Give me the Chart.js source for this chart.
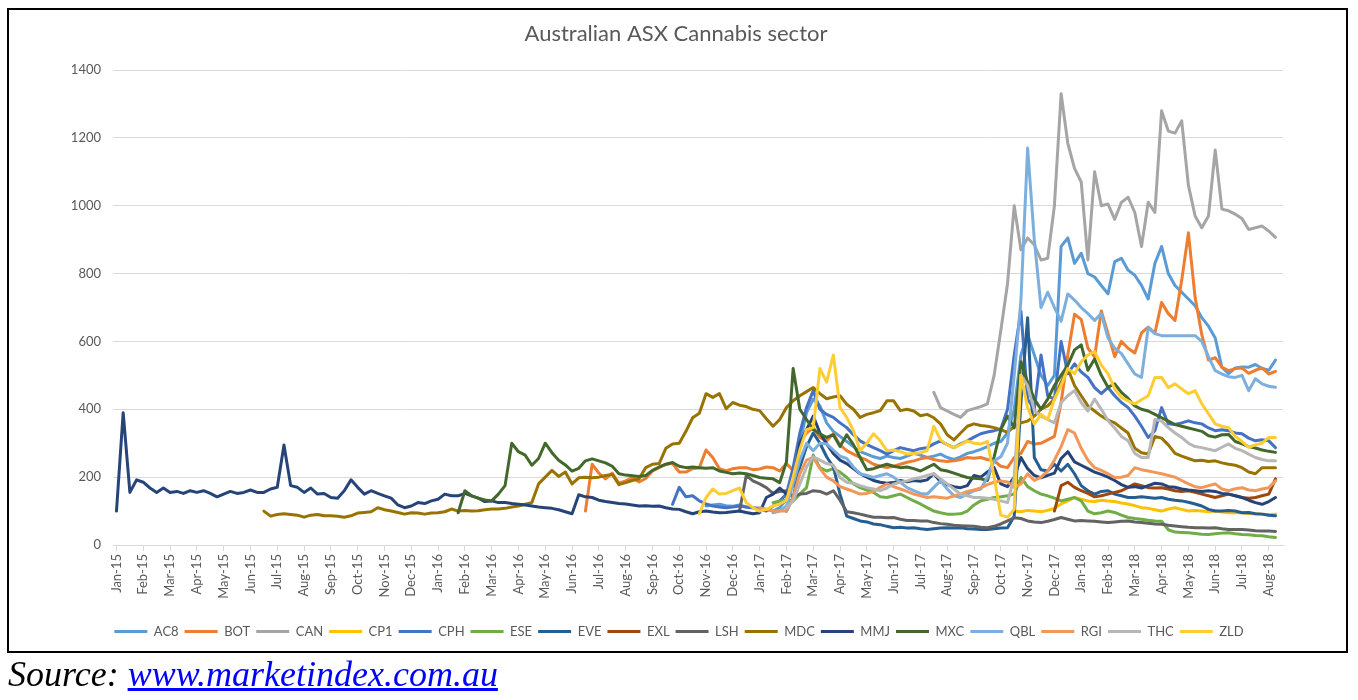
<!DOCTYPE html>
<html><head><meta charset="utf-8">
<script src="https://cdn.jsdelivr.net/npm/chart.js@4"></script>
<style>
html,body{margin:0;padding:0;background:#fff;width:1358px;height:700px;overflow:hidden}
#c{position:absolute;left:0;top:0;width:1358px;height:700px}
#frame{position:absolute;left:7px;top:8px;width:1337px;height:641px;border:2px solid #000;pointer-events:none}
#source{position:absolute;left:8px;top:657px;font-family:"Liberation Serif","Times New Roman",serif;font-style:italic;font-size:36px;line-height:35px;color:#000;white-space:nowrap}
#source a{color:#0000ff;text-decoration:underline}
</style></head><body>
<canvas id="c" width="1358" height="700"></canvas>
<div id="frame"></div>
<div id="source">Source: <a href="#">www.marketindex.com.au</a></div>
<script>
// x-axis tick labels (one per month)
const monthLabels = ['Jan-15','Feb-15','Mar-15','Apr-15','May-15','Jun-15','Jul-15','Aug-15','Sep-15','Oct-15','Nov-15','Dec-15',
  'Jan-16','Feb-16','Mar-16','Apr-16','May-16','Jun-16','Jul-16','Aug-16','Sep-16','Oct-16','Nov-16','Dec-16',
  'Jan-17','Feb-17','Mar-17','Apr-17','May-17','Jun-17','Jul-17','Aug-17','Sep-17','Oct-17','Nov-17','Dec-17',
  'Jan-18','Feb-18','Mar-18','Apr-18','May-18','Jun-18','Jul-18','Aug-18'];
const yTicks = [0,200,400,600,800,1000,1200,1400];
const seriesNames = ['AC8','BOT','CAN','CP1','CPH','ESE','EVE','EXL','LSH','MDC','MMJ','MXC','QBL','RGI','THC','ZLD'];

// Each series: weekly samples (4 per month); each row = one month, starting at the given month index (0 = Jan-15)
const AC8_start = 22;
const AC8 = [
 [115,118,120,116],[114,118,112,110],
 [108,105,100,110],[135,220,300,390],[430,410,360,335],[320,305,290,275],[268,260,255,262],[258,255,262,270],
 [265,258,262,268],[258,252,260,270],[275,282,290,300],[305,330,400,560],[620,560,500,470],[500,880,905,830],
 [860,800,790,765],[740,835,845,810],[795,765,725,830],[880,800,765,745],[725,705,670,645],[610,524,505,522],
 [525,524,532,520],[515,545]];
const BOT_start = 17;
const BOT = [
 [null,null,100,238],[212,195,212,182],[189,199,186,196],[218,228,238,240],[215,215,225,228],[280,258,225,218],[225,228,228,222],
 [224,230,228,218],[240,220,300,330],[346,317,307,328],[295,278,268,258],[250,238,232,228],[232,238,244,248],
 [254,258,252,248],[246,248,252,258],[256,258,252,248],[232,228,258,270],[305,298,300,310],[320,420,560,680],
 [665,580,555,690],[623,555,600,580],[566,625,642,625],[715,682,662,780],[920,730,620,545],[552,524,514,520],
 [522,506,515,522],[504,512]];
const CAN_start = 30;
const CAN = [
 [null,null,450,405],[395,385,376,396],[402,408,416,500],[632,770,1000,870],[905,885,840,845],[1000,1330,1184,1110],
 [1070,840,1100,1000],[1005,960,1010,1025],[980,880,1010,980],[1280,1220,1214,1250],[1060,970,935,970],[1164,990,985,975],
 [962,930,935,940],[925,907]];
const CP1_start = 33;
const CP1 = [
 [null,null,100,98],[102,100,98,102],[108,121,130,140],
 [135,130,128,132],[130,128,124,121],[116,110,108,104],[100,106,110,105],[100,102,100,98],[100,97,95,96],
 [95,93,92,91],[90,91]];
const CPH_start = 20;
const CPH = [
 [null,null,null,120],[170,142,145,130],[121,115,112,110],[112,115,112,110],
 [105,100,115,130],[150,228,330,405],[455,400,385,376],[360,346,325,307],[296,287,278,268],[278,287,282,278],
 [284,287,298,307],[296,287,298,307],[318,328,333,337],[342,400,560,690],[430,400,560,440],[430,600,505,534],
 [510,494,464,446],[464,440,420,405],[380,350,317,337],[405,357,355,360],[366,360,357,345],[337,340,337,330],
 [328,315,307,310],[307,287]];
const ESE_start = 24;
const ESE = [
 [null,null,125,130],[132,130,150,169],[265,228,218,225],[215,199,180,169],[162,155,142,140],[145,150,140,130],
 [121,110,100,95],[91,91,92,100],[118,130,135,140],[142,145,150,199],[172,160,150,145],[138,130,135,140],
 [130,100,92,95],[100,96,88,81],[78,76,73,71],[70,45,38,37],[36,34,32,31],[33,35,36,33],
 [31,30,28,27],[24,22]];
const EVE_start = 25;
const EVE = [
 [100,140,230,290],[330,300,260,230],[150,85,78,71],[68,62,60,55],[51,52,50,51],
 [48,46,48,50],[51,50,51,48],[47,46,46,48],[50,51,85,420],[670,258,222,218],[238,218,238,210],
 [175,160,150,158],[160,150,145,140],[140,142,140,138],[140,135,132,130],[126,121,115,105],[100,100,102,100],
 [95,96,92,91],[88,86]];
const EXL_start = 35;
const EXL = [
 [100,175,185,170],
 [160,152,142,145],[150,155,160,170],[180,175,169,168],[169,165,160,158],[160,155,150,145],[140,145,150,145],
 [140,138,140,145],[150,195]];
const LSH_start = 23;
const LSH = [
 [null,100,205,189],
 [180,169,152,158],[160,142,150,152],[160,158,150,160],[132,98,95,91],[86,82,82,80],[81,76,72,72],
 [71,71,66,63],[61,58,57,56],[55,52,51,55],[62,71,80,78],[71,68,66,70],[75,81,76,71],
 [72,71,70,68],[66,68,70,71],[68,66,64,62],[61,58,56,54],[52,51,51,50],[51,48,46,46],
 [46,44,42,41],[41,40]];
const MDC_start = 5;
const MDC = [
 [null,null,100,85],[90,92,90,88],[82,88,90,86],[86,85,82,86],[94,96,98,110],[104,100,96,91],[95,94,91,94],
 [95,98,106,100],[102,100,101,104],[106,106,108,112],[115,120,125,180],[200,220,202,215],[180,198,200,198],
 [200,205,208,178],[184,190,195,228],[238,240,285,298],[300,335,375,388],[446,435,446,402],[420,412,408,400],
 [396,372,350,370],[405,425,440,452],[464,446,431,436],[440,415,400,376],[385,390,396,425],[425,396,400,395],
 [381,385,375,357],[325,310,330,350],[357,352,350,346],[340,332,350,360],[365,380,400,410],[430,480,520,470],
 [440,410,395,380],[368,360,345,330],[285,272,268,320],[315,295,270,262],[255,248,250,246],[248,242,238,235],
 [228,215,210,228],[228,228]];
const MMJ_start = 0;
const MMJ = [
 [100,390,155,192],[185,168,155,168],[155,158,152,160],[155,160,152,142],[150,158,152,155],[162,155,155,165],
 [170,295,175,170],[155,168,150,152],[140,138,160,192],[170,150,160,152],[145,138,118,110],[115,125,122,130],
 [135,150,145,145],[152,145,138,128],[130,125,125,122],[120,118,115,112],[110,108,104,98],[92,148,142,140],
 [132,128,125,122],[121,118,115,116],[114,115,110,106],[105,98,92,98],[100,97,95,96],[98,100,96,92],
 [95,140,150,168],[150,175,300,340],[380,330,298,270],[250,240,225,210],[200,190,185,182],[184,190,186,190],
 [188,192,210,186],[178,172,169,175],[205,200,215,228],[180,172,200,258],[225,205,198,205],[212,255,275,245],
 [235,225,215,208],[200,190,178,170],[172,168,175,182],[180,172,170,165],[162,160,158,160],[158,152,150,145],
 [140,132,125,120],[128,140]];
const MXC_start = 12;
const MXC = [
 [null,null,null,95],[160,145,138,133],[130,150,175,300],[275,265,235,255],[300,272,250,236],[218,226,248,254],
 [248,242,232,210],[206,204,202,205],[220,230,238,243],[232,228,230,228],[226,228,218,214],[210,212,210,205],
 [199,197,195,184],[245,520,400,370],[340,328,317,325],[290,325,296,258],[222,225,232,238],[232,228,230,225],
 [218,228,238,222],[218,212,205,199],[197,195,190,260],[340,380,345,540],[480,430,400,430],[470,500,530,575],
 [590,515,548,500],[465,475,450,432],[410,400,395,385],[375,365,355,350],[345,340,335,322],[318,325,326,305],
 [298,290,286,280],[276,273]];
const QBL_start = 24;
const QBL = [
 [null,null,95,100],[115,180,250,300],[278,300,298,280],[262,255,230,210],[205,199,205,210],[200,185,169,160],
 [152,150,170,189],[165,145,140,150],[160,165,200,248],[260,300,500,720],[1170,900,700,745],[700,660,740,722],
 [700,682,662,682],[610,580,564,534],[504,494,640,623],[617,617,617,617],[617,617,600,555],[514,504,496,494],
 [500,455,490,475],[468,465]];
const RGI_start = 24;
const RGI = [
 [110,105,100,100],[100,140,210,250],[258,225,200,189],[172,165,158,150],[152,158,170,180],[172,165,158,150],
 [145,140,142,140],[138,145,150,158],[162,168,178,185],[189,186,170,180],[210,190,200,218],[250,290,340,330],
 [285,250,228,220],[210,199,200,205],[228,222,218,214],[210,205,200,190],[180,172,169,175],[180,165,160,166],
 [169,162,160,165],[169,189]];
const THC_start = 25;
const THC = [
 [110,130,180,230],[260,250,240,235],[199,185,182,175],[169,165,160,168],[180,185,189,195],
 [199,205,210,195],[180,165,150,145],[140,140,138,135],[130,125,200,500],[470,396,380,370],[360,420,440,455],
 [420,395,430,400],[366,345,320,307],[270,258,258,370],[365,346,330,317],[300,290,287,282],[278,288,298,285],
 [278,268,258,252],[248,248]];
const ZLD_start = 21;
const ZLD = [
 [null,null,null,92],[140,165,150,152],[160,168,125,110],
 [100,105,115,121],[132,200,280,340],[346,520,480,560],[405,376,337,278],[300,328,307,278],[280,275,268,270],
 [272,278,350,310],[295,287,296,307],[300,298,305,200],[88,82,105,500],[405,357,385,370],[430,470,520,505],
 [540,560,570,530],[505,460,435,425],[416,428,440,494],[494,464,475,460],[446,455,416,387],[357,350,346,320],
 [305,288,295,300],[317,317]];

const seriesData = [[AC8_start,AC8],[BOT_start,BOT],[CAN_start,CAN],[CP1_start,CP1],[CPH_start,CPH],[ESE_start,ESE],
  [EVE_start,EVE],[EXL_start,EXL],[LSH_start,LSH],[MDC_start,MDC],[MMJ_start,MMJ],[MXC_start,MXC],[QBL_start,QBL],
  [RGI_start,RGI],[THC_start,THC],[ZLD_start,ZLD]];

// styles
const seriesColors = ['#5B9BD5','#ED7D31','#A5A5A5','#FFC000','#4472C4','#70AD47','#255E91','#9E480E','#636363',
  '#997300','#264478','#43682B','#7CAFDD','#F1975A','#B7B7B7','#FFCD33'];
const STEP = 0.25;

function toPoints(start, rows) {
  return rows.flat().map((v, i) => ({x: start + i * STEP, y: v}));
}

Chart.defaults.font.family = 'Lato, "Noto Sans", sans-serif';
Chart.defaults.color = '#595959';

const datasets = seriesNames.map((name, i) => ({
  label: name,
  data: toPoints(seriesData[i][0], seriesData[i][1]),
  borderColor: seriesColors[i],
  backgroundColor: seriesColors[i],
  borderWidth: 3,
  pointRadius: 0,
  pointHoverRadius: 0,
  tension: 0,
  fill: false,
  borderJoinStyle: 'round',
  borderCapStyle: 'round',
  order: seriesNames.length - i
}));

const shiftPlugin = {
  id: 'shiftBlocks',
  afterLayout(chart) {
    if (chart.titleBlock) { chart.titleBlock.left += 28; chart.titleBlock.right += 28; }
    if (chart.legend) { chart.legend.left += 31; chart.legend.right += 31; }
  }
};

new Chart(document.getElementById('c'), {
  type: 'line',
  data: { datasets },
  plugins: [shiftPlugin],
  options: {
    responsive: false,
    animation: false,
    devicePixelRatio: 1,
    layout: { padding: { top: 10, left: 13, right: 75, bottom: 52 } },
    plugins: {
      title: {
        display: true,
        text: 'Australian ASX Cannabis sector',
        color: '#595959',
        font: { size: 22, weight: 'normal' },
        padding: { top: 11, bottom: 22.6 }
      },
      legend: {
        position: 'bottom',
        labels: {
          boxWidth: 33,
          boxHeight: 3,
          padding: 6,
          color: '#595959',
          font: { size: 13 },
          sort: (a, b) => a.datasetIndex - b.datasetIndex,
          generateLabels: (chart) => Chart.defaults.plugins.legend.labels.generateLabels(chart)
            .map(l => Object.assign(l, { lineWidth: 0 }))
        }
      },
      tooltip: { enabled: false }
    },
    scales: {
      x: {
        type: 'linear',
        min: -0.13,
        max: 43.53,
        afterBuildTicks: (s) => { s.ticks = monthLabels.map((_, i) => ({ value: i })); },
        afterFit: (s) => { s.height = 74; },
        ticks: {
          autoSkip: false,
          minRotation: 90,
          maxRotation: 90,
          padding: 3,
          color: '#595959',
          font: { size: 13 },
          callback: (v) => monthLabels[v] ?? ''
        },
        grid: { drawOnChartArea: false, drawTicks: true, tickLength: 6, color: '#D9D9D9' },
        border: { display: true, color: '#D9D9D9' }
      },
      y: {
        min: 0,
        max: 1400,
        afterBuildTicks: (s) => { s.ticks = yTicks.map(v => ({ value: v })); },
        afterFit: (s) => { s.width = 100; },
        ticks: { padding: 12, color: '#595959', font: { size: 13 }, callback: (v) => String(v) },
        grid: { color: '#D9D9D9', drawTicks: false, lineWidth: 1 },
        border: { display: false }
      }
    }
  }
});
</script>
</body></html>
